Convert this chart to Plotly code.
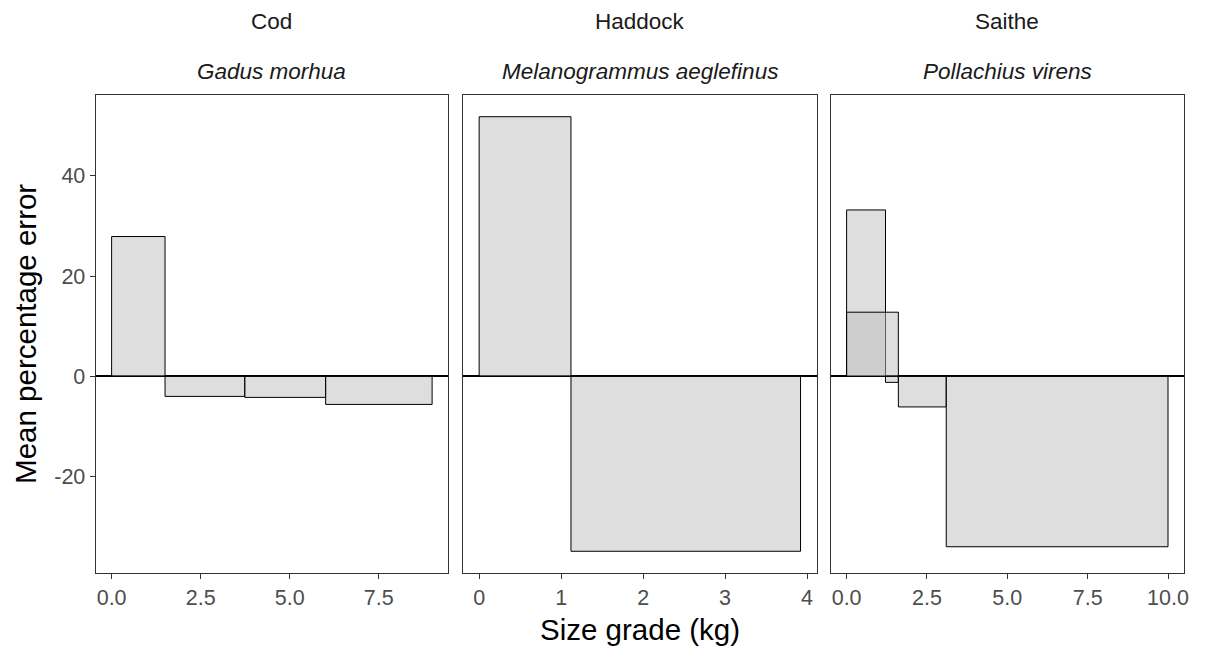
import plotly.graph_objects as go

# ---- data ----
species_common = ["Cod", "Haddock", "Saithe"]
species_latin = ["Gadus morhua", "Melanogrammus aeglefinus", "Pollachius virens"]

cod_lo = [0.0, 1.5, 3.74, 6.01]
cod_hi = [1.5, 3.74, 6.01, 9.0]
cod_mpe = [27.9, -4.0, -4.2, -5.6]

had_lo = [0.0, 1.12]
had_hi = [1.12, 3.92]
had_mpe = [51.8, -34.9]

sai_lo = [0.0, 0.0, 1.21, 1.61, 3.10]
sai_hi = [1.21, 1.61, 1.61, 3.10, 10.0]
sai_mpe = [33.2, 12.8, -1.2, -6.1, -34.0]

x_ticks = [[0, 2.5, 5, 7.5], [0, 1, 2, 3, 4], [0, 2.5, 5, 7.5, 10]]
x_labels = [["0.0", "2.5", "5.0", "7.5"], ["0", "1", "2", "3", "4"],
            ["0.0", "2.5", "5.0", "7.5", "10.0"]]
y_ticks = [-20, 0, 20, 40]
y_labels = ["-20", "0", "20", "40"]

panels = [(cod_lo, cod_hi, cod_mpe), (had_lo, had_hi, had_mpe), (sai_lo, sai_hi, sai_mpe)]

W, H = 1207, 646
FONT = "Liberation Sans, Arial, sans-serif"

# panel pixel geometry
px_x = [(96, 450), (465, 820), (834, 1189)]
py_top, py_bot = 95, 573

fig = go.Figure()

all_y = cod_mpe + had_mpe + sai_mpe
ymin, ymax = min(all_y), max(all_y)
yw = ymax - ymin
yrange = [ymin - 0.05 * yw, ymax + 0.05 * yw]

layout = dict(
    width=W, height=H,
    margin=dict(l=0, r=0, t=0, b=0),
    paper_bgcolor="white", plot_bgcolor="white",
    showlegend=False, barmode="overlay",
    font=dict(family=FONT),
)

annotations = []
for i, (lo, hi, val) in enumerate(panels):
    n = i + 1
    xa = "x" if n == 1 else f"x{n}"
    ya = "y" if n == 1 else f"y{n}"
    centers = [(a + b) / 2 for a, b in zip(lo, hi)]
    widths = [b - a for a, b in zip(lo, hi)]
    fig.add_trace(go.Bar(
        x=centers, y=val, width=widths, xaxis=xa, yaxis=ya,
        marker=dict(color="rgba(190,190,190,0.5)", line=dict(color="black", width=1)),
        hoverinfo="skip",
    ))
    xlo, xhi = min(lo), max(hi)
    xw = xhi - xlo
    d0, d1 = px_x[i][0] / W, px_x[i][1] / W
    layout[f"xaxis{'' if n == 1 else n}"] = dict(
        domain=[d0, d1], range=[xlo - 0.05 * xw, xhi + 0.05 * xw],
        anchor=ya, showgrid=False, zeroline=False,
        showline=True, mirror=True, linecolor="#333333", linewidth=1,
        ticks="outside", ticklen=5, tickcolor="#333333", tickwidth=1,
        tickvals=x_ticks[i], ticktext=x_labels[i],
        tickfont=dict(family=FONT, size=21.5, color="#4d4d4d"),
    )
    layout[f"yaxis{'' if n == 1 else n}"] = dict(
        domain=[(H - py_bot) / H, (H - py_top) / H], range=yrange,
        anchor=xa, showgrid=False,
        zeroline=True, zerolinecolor="black", zerolinewidth=1.6,
        showline=True, mirror=True, linecolor="#333333", linewidth=1,
        ticks="outside" if n == 1 else "", ticklen=5, tickcolor="#333333", tickwidth=1,
        tickvals=y_ticks, ticktext=y_labels, showticklabels=(n == 1),
        tickfont=dict(family=FONT, size=21.5, color="#4d4d4d"),
    )
    cx = (d0 + d1) / 2
    annotations.append(dict(
        x=cx, y=(H - 22) / H, xref="paper", yref="paper", showarrow=False,
        text=species_common[i], xanchor="center", yanchor="middle",
        font=dict(family=FONT, size=22.5, color="#1a1a1a"),
    ))
    annotations.append(dict(
        x=cx, y=(H - 71) / H, xref="paper", yref="paper", showarrow=False,
        text=f"<i>{species_latin[i]}</i>", xanchor="center", yanchor="middle",
        font=dict(family=FONT, size=22.5, color="#1a1a1a"),
    ))

# axis titles
annotations.append(dict(
    x=(px_x[0][0] + px_x[2][1]) / 2 / W, y=(H - 629) / H, xref="paper", yref="paper",
    showarrow=False, text="Size grade (kg)", xanchor="center", yanchor="middle",
    font=dict(family=FONT, size=29.5, color="black"),
))
annotations.append(dict(
    x=25 / W, y=(H - (py_top + py_bot) / 2) / H, xref="paper", yref="paper",
    showarrow=False, text="Mean percentage error", textangle=-90,
    xanchor="center", yanchor="middle",
    font=dict(family=FONT, size=29.5, color="black"),
))

layout["annotations"] = annotations
fig.update_layout(**layout)
fig.write_html(
    "out.html",
    config={"displayModeBar": False},
    post_script="document.body.style.margin='0';document.body.style.overflow='hidden';",
)
